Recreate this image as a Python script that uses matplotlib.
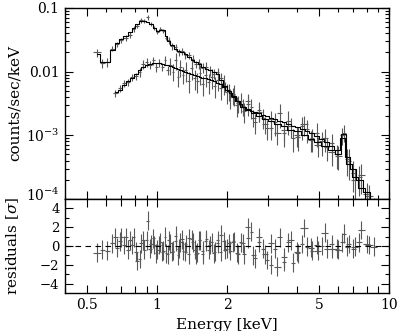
import matplotlib as mpl
mpl.use("Agg")
import matplotlib.pyplot as plt
import matplotlib.transforms as mtrans
import numpy as np
from matplotlib.ticker import FixedLocator, FixedFormatter, LogLocator, NullFormatter

mpl.rcParams.update({
    "font.family": "serif", "font.serif": ["DejaVu Serif"],
    "mathtext.fontset": "dejavuserif",
    "font.size": 10,
    "xtick.direction": "in", "ytick.direction": "in",
    "xtick.top": True, "ytick.right": True,
    "axes.linewidth": 1.0,
})

# spectrum 1 (upper, soft)
E1 = [0.55, 0.58, 0.61, 0.64, 0.67, 0.70, 0.73, 0.76, 0.79, 0.82, 0.85, 0.88, 0.91, 0.94,
      0.97, 1.00, 1.03, 1.06, 1.09, 1.12, 1.16, 1.20, 1.24, 1.28, 1.32, 1.37, 1.42, 1.47,
      1.52, 1.57, 1.63, 1.69, 1.75, 1.82, 1.89, 1.96, 2.04, 2.13, 2.23, 2.34, 2.46, 2.60,
      2.75, 2.92, 3.10, 3.30, 3.52, 3.76, 4.02, 4.30, 4.60, 4.92, 5.27, 5.65, 6.05, 6.40,
      6.70, 7.10, 7.60, 8.20]
dE1 = [0.02, 0.015, 0.015, 0.015, 0.015, 0.015, 0.015, 0.015, 0.015, 0.015, 0.015, 0.015,
       0.015, 0.015, 0.015, 0.015, 0.015, 0.015, 0.015, 0.02, 0.02, 0.02, 0.02, 0.02, 0.02,
       0.025, 0.025, 0.025, 0.025, 0.025, 0.03, 0.03, 0.03, 0.035, 0.035, 0.035, 0.04, 0.045,
       0.05, 0.055, 0.065, 0.07, 0.08, 0.09, 0.09, 0.11, 0.11, 0.13, 0.13, 0.15, 0.15, 0.17,
       0.18, 0.2, 0.2, 0.15, 0.15, 0.25, 0.25, 0.35]
y1 = [0.020, 0.0135, 0.0140, 0.023, 0.027, 0.031, 0.034, 0.038, 0.047, 0.052, 0.064, 0.062,
      0.071, 0.056, 0.049, 0.042, 0.047, 0.044, 0.034, 0.031, 0.025, 0.024, 0.020, 0.021,
      0.018, 0.018, 0.016, 0.013, 0.0135, 0.0115, 0.0118, 0.0105, 0.0092, 0.0098, 0.0080,
      0.0058, 0.0050, 0.0043, 0.0032, 0.0029, 0.0034, 0.0019, 0.0023, 0.0015, 0.0018, 0.0011,
      0.0012, 0.0014, 0.0010, 0.0015, 0.00085, 0.00070, 0.00090, 0.00055, 0.00048, 0.0011,
      0.00040, 0.00020, 0.00024, 0.00011]
rel1 = [0.15, 0.15, 0.15, 0.10, 0.10, 0.10, 0.10, 0.10, 0.10, 0.08, 0.08, 0.08, 0.08, 0.08,
        0.08, 0.08, 0.08, 0.08, 0.08, 0.12, 0.12, 0.12, 0.12, 0.12, 0.12, 0.12, 0.12, 0.12,
        0.18, 0.18, 0.18, 0.18, 0.18, 0.18, 0.18, 0.18, 0.3, 0.3, 0.3, 0.3, 0.3, 0.3, 0.3,
        0.3, 0.35, 0.35, 0.35, 0.35, 0.35, 0.35, 0.35, 0.35, 0.4, 0.4, 0.4, 0.3, 0.5, 0.5,
        0.5, 0.5]
m1 = [0.019, 0.014, 0.014, 0.022, 0.028, 0.032, 0.036, 0.042, 0.048, 0.055, 0.062, 0.063,
      0.060, 0.055, 0.048, 0.043, 0.045, 0.045, 0.036, 0.030, 0.026, 0.023, 0.021, 0.020,
      0.019, 0.017, 0.015, 0.014, 0.013, 0.012, 0.011, 0.0105, 0.0098, 0.0092, 0.0075, 0.006,
      0.0049, 0.0042, 0.0034, 0.0028, 0.0025, 0.0022, 0.0020, 0.0018, 0.0017, 0.0015, 0.0014,
      0.0012, 0.00115, 0.00100, 0.00088, 0.00078, 0.00068, 0.00058, 0.00050, 0.00105,
      0.00035, 0.00022, 0.00015, 0.00010]
r1 = [-0.7, -0.4, -0.5, 0.3, -0.2, 0.9, 0.9, 0.6, 0.9, -1.6, 0.3, -0.4, 2.7, 0.2, 0.1, -0.4,
      0.4, -0.5, -0.8, 0.6, -0.6, 0.5, -0.3, 0.7, -0.6, 0.8, 0.4, -0.9, 0.6, -0.5, 0.7, 0.1,
      -0.8, 0.6, 1.2, -0.4, 0.3, 0.4, -0.9, 0.3, 2.0, -1.0, 0.9, -0.9, 0.3, -2.2, -1.2, 0.6,
      -0.6, 1.9, -0.2, -0.5, 1.4, -0.3, -0.4, 1.3, 0.2, -0.1, 1.7, 0.1]

# spectrum 2 (lower, hard)
E2 = [0.66, 0.69, 0.72, 0.75, 0.78, 0.81, 0.84, 0.87, 0.90, 0.93, 0.96, 0.99, 1.02, 1.05,
      1.08, 1.11, 1.14, 1.17, 1.20, 1.23, 1.26, 1.29, 1.33, 1.37, 1.41, 1.45, 1.49, 1.53,
      1.57, 1.62, 1.67, 1.72, 1.77, 1.82, 1.88, 1.94, 2.00, 2.07, 2.14, 2.21, 2.29, 2.37,
      2.46, 2.55, 2.65, 2.75, 2.86, 2.98, 3.10, 3.23, 3.37, 3.52, 3.68, 3.85, 4.03, 4.22,
      4.42, 4.64, 4.87, 5.12, 5.38, 5.66, 5.96, 6.28, 6.62, 7.00, 7.45, 8.00, 8.60]
dE2 = [0.015] * 22 + [0.02] * 7 + [0.025] * 5 + [0.03] * 3 + [0.035] * 3 + \
      [0.04, 0.04, 0.045, 0.045, 0.05, 0.05, 0.06, 0.06, 0.065, 0.065, 0.07, 0.07, 0.08,
       0.08, 0.09, 0.09, 0.1, 0.1, 0.12, 0.12, 0.13, 0.13, 0.15, 0.15, 0.17, 0.17, 0.22,
       0.28, 0.3]
y2 = [0.0046, 0.0055, 0.0066, 0.0068, 0.0082, 0.0085, 0.0098, 0.0130, 0.0140, 0.0128,
      0.0150, 0.0118, 0.0138, 0.0120, 0.0152, 0.0105, 0.0128, 0.0100, 0.0150, 0.0082,
      0.0118, 0.0090, 0.0105, 0.0072, 0.0112, 0.0078, 0.0070, 0.0095, 0.0064, 0.0088,
      0.0068, 0.0082, 0.0060, 0.0075, 0.0055, 0.0066, 0.0048, 0.0040, 0.0045, 0.0030,
      0.0034, 0.0024, 0.0031, 0.0028, 0.0016, 0.0025, 0.0019, 0.0013, 0.0013, 0.0016,
      0.0022, 0.0011, 0.0017, 0.0009, 0.00095, 0.0014, 0.00125, 0.00090, 0.0011, 0.00080,
      0.00065, 0.00075, 0.00050, 0.00100, 0.00042, 0.00026, 0.00022, 0.00012, 0.00007]
rel2 = [0.12] * 6 + [0.15] * 10 + [0.3] * 6 + [0.35] * 27 + [0.4] * 14 + \
       [0.3, 0.45, 0.5, 0.5, 0.5, 0.5]
m2 = [0.0048, 0.0052, 0.0062, 0.0072, 0.0080, 0.0092, 0.0105, 0.0118, 0.0126, 0.0132,
      0.0135, 0.0136, 0.0135, 0.0132, 0.0129, 0.0125, 0.0121, 0.0117, 0.0113, 0.0109,
      0.0105, 0.0102, 0.0098, 0.0095, 0.0091, 0.0088, 0.0085, 0.0082, 0.0080, 0.0078,
      0.0076, 0.0074, 0.0071, 0.0067, 0.0063, 0.0058, 0.0052, 0.0046, 0.0040, 0.0035,
      0.0031, 0.0028, 0.0026, 0.0024, 0.0023, 0.0022, 0.0021, 0.0020, 0.0019, 0.0018,
      0.0017, 0.0016, 0.0015, 0.00142, 0.00134, 0.00126, 0.00118, 0.00108, 0.00098,
      0.00088, 0.00078, 0.00068, 0.00058, 0.00090, 0.00045, 0.00030, 0.00020, 0.00013,
      0.00008]
r2 = [0.9, 0.5, 0.1, -0.4, 0.1, -0.6, -1.4, 0.6, 0.6, -0.3, 0.8, -0.8, 0.1, -0.6, 1.0,
      -0.9, 0.3, -0.5, 1.1, -1.0, 0.4, -0.5, 0.2, -0.9, 0.7, -0.4, -0.7, 0.6, -0.9, 0.5,
      -0.4, 0.4, -0.6, 0.3, -0.6, 0.5, -0.3, -0.5, 0.5, -0.7, 0.4, -0.9, 0.8, 1.5, -1.3,
      0.4, -0.3, -1.5, -2.0, -0.3, 0.9, -1.7, 0.4, -1.8, -0.8, 0.2, -0.1, -0.5, 0.1, 0.0,
      -0.3, 0.2, -0.3, 0.4, -0.1, -0.3, 0.4, 0.2, -0.1]

XTICKS = [0.5, 1, 2, 5, 10]
XTICKLABELS = ["0.5", "1", "2", "5", "10"]

fig = plt.figure(figsize=(4.0, 3.31), dpi=100)
ax = fig.add_axes([0.1625, 0.399, 0.81, 0.577])
axr = fig.add_axes([0.1625, 0.115, 0.81, 0.284], sharex=ax)

ecol = "0.35"
for E, dE, y, rel in [(E1, dE1, y1, rel1), (E2, dE2, y2, rel2)]:
    y = np.array(y)
    ax.errorbar(E, y, xerr=dE, yerr=y * np.array(rel), fmt="none",
                ecolor=ecol, elinewidth=0.8, capsize=0)
ax.step(E1, m1, where="mid", color="k", lw=0.8)
ax.step(E2, m2, where="mid", color="k", lw=0.8)

ax.set_xscale("log")
ax.set_yscale("log")
ax.set_xlim(0.4, 10)
ax.set_ylim(1e-4, 0.1)
ax.yaxis.set_major_locator(FixedLocator([1e-4, 1e-3, 1e-2, 0.1]))
ax.yaxis.set_major_formatter(FixedFormatter(["$10^{-4}$", "$10^{-3}$", "0.01", "0.1"]))
ax.yaxis.set_minor_locator(LogLocator(base=10, subs=np.arange(2, 10)))
ax.yaxis.set_minor_formatter(NullFormatter())
ax.set_ylabel("counts/sec/keV", fontsize=11)
ax.yaxis.set_label_coords(-0.135, 0.5)
ax.tick_params(labelbottom=False)

for E, dE, r in [(E1, dE1, r1), (E2, dE2, r2)]:
    axr.errorbar(E, r, xerr=dE, yerr=1.0, fmt="none", ecolor=ecol,
                 elinewidth=0.8, capsize=0)
axr.axhline(0, color="k", lw=0.8, ls=(0, (5, 4)))
axr.set_ylim(-5, 5)
axr.set_yticks([-4, -2, 0, 2, 4])
axr.set_yticks([-3, -1, 1, 3], minor=True)
axr.set_xticks(XTICKS)
axr.set_xticklabels(XTICKLABELS)
axr.xaxis.set_minor_locator(LogLocator(base=10, subs=np.arange(2, 10)))
axr.xaxis.set_minor_formatter(NullFormatter())
axr.set_xlim(0.4, 10)
axr.set_ylabel(r"residuals [$\sigma$]", fontsize=11)
axr.yaxis.set_label_coords(-0.135, 0.5)
axr.set_xlabel("Energy [keV]", fontsize=11)

for a in (ax, axr):
    a.tick_params(which="major", length=6, width=0.8, labelsize=10, pad=4)
    a.tick_params(which="minor", length=3, width=0.8)
axr.tick_params(axis="x", which="minor", length=5)
axr.tick_params(axis="y", which="major", labelsize=9.5)

# nudge the lowest log label up a little so it clears the residual "4"
fig.canvas.draw()
lab = ax.yaxis.get_major_ticks()[0].label1
lab.set_transform(lab.get_transform() +
                  mtrans.ScaledTranslation(0, 4 / 72, fig.dpi_scale_trans))

fig.savefig("out.png", dpi=100)
